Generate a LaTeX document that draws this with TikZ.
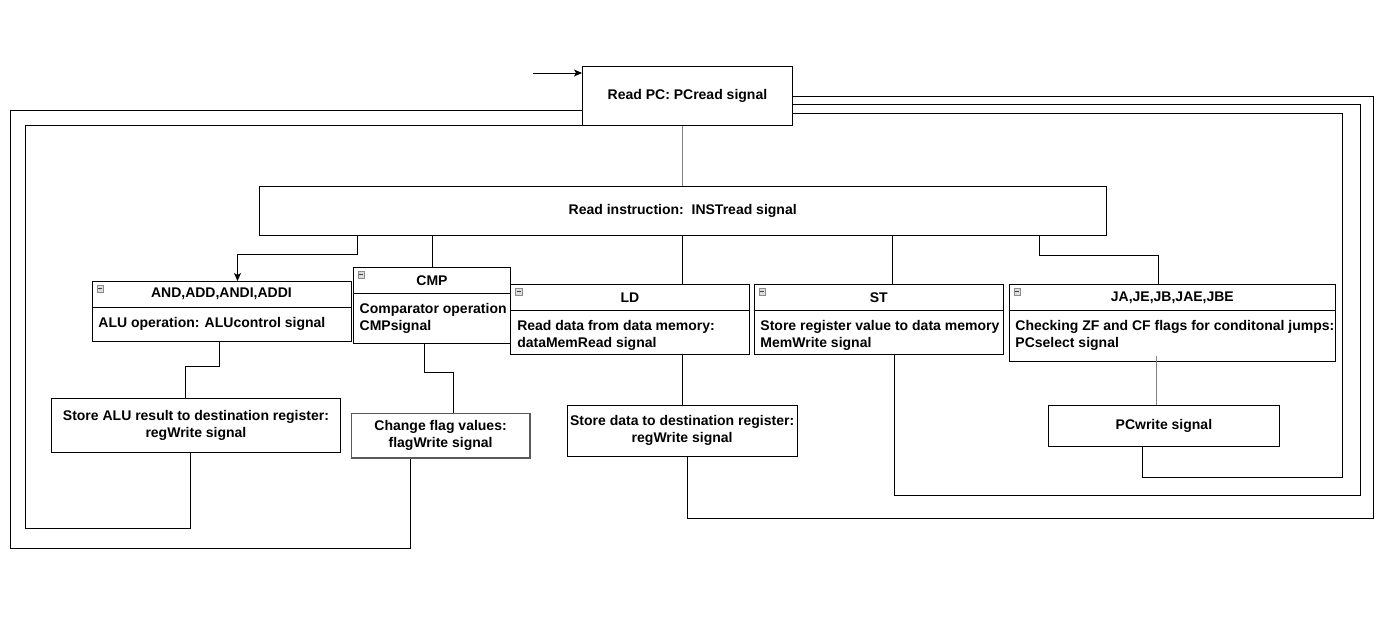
\documentclass[tikz,border=0pt]{standalone}
\usepackage{fontspec}
\setmainfont{Liberation Sans}
\usetikzlibrary{arrows.meta}

\begin{document}
\begin{tikzpicture}[x=1pt, y=-1pt, line width=0.9pt]
\tikzset{
  boite/.style={draw, rectangle, anchor=north west, inner sep=1pt, align=center, font=\bfseries\fontsize{14}{17}\selectfont},
  couloir/.style={draw, rectangle, anchor=north west, inner sep=0pt},
  titre/.style={inner sep=0pt, font=\bfseries\fontsize{14}{17}\selectfont},
  corps/.style={anchor=north west, inner sep=0pt, align=left, font=\bfseries\fontsize{14}{17}\selectfont},
  icone/.style={draw=black!45, fill=blue!10!gray!25, minimum size=6.5pt, inner sep=0pt, anchor=north west, line width=0.5pt,
    path picture={\draw[black!75, line width=0.8pt] ([xshift=1.3pt]path picture bounding box.west) -- ([xshift=-1.3pt]path picture bounding box.east);}},
  fleche/.style={-{Stealth[length=8pt, width=7pt, inset=2pt]}},
  gris/.style={draw=black!50}
}
\useasboundingbox (0,0) rectangle (1399,616);
% boites simples
\node[boite, minimum width=210pt, minimum height=59pt] (pc) at (582,66) {Read PC: PCread signal};
\node[boite, minimum width=847.5pt, minimum height=49pt] (instr) at (258.5,186) {Read instruction:\ \ INSTread signal};
\node[boite, minimum width=289pt, minimum height=54pt] (sa) at (51,398.3) {Store ALU result to destination register:\\regWrite signal};
\node[boite, draw=black!65, line width=1.6pt, minimum width=178.4pt, minimum height=44.3pt] (flag) at (350.6,412.7) {Change flag values:\\flagWrite signal};
\node[boite, minimum width=230.2pt, minimum height=50.7pt] (sd) at (566.6,405) {Store data to destination register:\\regWrite signal};
\node[boite, minimum width=230.1pt, minimum height=40.7pt] (pw) at (1048.4,405) {PCwrite signal};
% couloirs
\node[couloir, minimum width=259pt, minimum height=60.3pt] (alu) at (91.5,281) {};
\draw ([yshift=-26pt]alu.north west) -- ([yshift=-26pt]alu.north east);
\node[icone] (aluI) at ([shift={(5pt,-4pt)}]alu.north west) {};
\node[titre] (aluT) at ([yshift=-13pt]alu.north) {AND,ADD,ANDI,ADDI};
\node[corps] (aluB) at ([shift={(6.5pt,-36pt)}]alu.north west) {ALU operation: ALUcontrol signal};
\node[couloir, minimum width=157.6pt, minimum height=76pt] (cmp) at (352.7,267.3) {};
\draw ([yshift=-26pt]cmp.north west) -- ([yshift=-26pt]cmp.north east);
\node[icone] (cmpI) at ([shift={(5pt,-4pt)}]cmp.north west) {};
\node[titre] (cmpT) at ([yshift=-13pt]cmp.north) {CMP};
\node[corps] (cmpB) at ([shift={(6.5pt,-36pt)}]cmp.north west) {Comparator operation\\CMPsignal};
\node[couloir, minimum width=238.3pt, minimum height=69.7pt] (ld) at (510.3,284.3) {};
\draw ([yshift=-26pt]ld.north west) -- ([yshift=-26pt]ld.north east);
\node[icone] (ldI) at ([shift={(5pt,-4pt)}]ld.north west) {};
\node[titre] (ldT) at ([yshift=-13pt]ld.north) {LD};
\node[corps] (ldB) at ([shift={(6.5pt,-36pt)}]ld.north west) {Read data from data memory:\\dataMemRead signal};
\node[couloir, minimum width=249.5pt, minimum height=69.7pt] (st) at (753.5,284.3) {};
\draw ([yshift=-26pt]st.north west) -- ([yshift=-26pt]st.north east);
\node[icone] (stI) at ([shift={(5pt,-4pt)}]st.north west) {};
\node[titre] (stT) at ([yshift=-13pt]st.north) {ST};
\node[corps] (stB) at ([shift={(6.5pt,-36pt)}]st.north west) {Store register value to data memory\\MemWrite signal};
\node[couloir, minimum width=326.8pt, minimum height=76.7pt] (ja) at (1008.5,284.3) {};
\draw ([yshift=-26pt]ja.north west) -- ([yshift=-26pt]ja.north east);
\node[icone] (jaI) at ([shift={(5pt,-4pt)}]ja.north west) {};
\node[titre] (jaT) at ([yshift=-13pt]ja.north) {JA,JE,JB,JAE,JBE};
\node[corps] (jaB) at ([shift={(6.5pt,-36pt)}]ja.north west) {Checking ZF and CF flags for conditonal jumps:\\PCselect signal};
% liens vers le bas
\coordinate (in) at (533,73);
\draw[fleche] (in) -- (in -| pc.west);
\draw[gris] (instr.north |- pc.south) -- (instr.north);
\draw[fleche] ([xshift=99pt]instr.south west) -- ++(0,19) -| ([xshift=146pt]alu.north west);
\draw (cmp.north |- instr.south) -- (cmp.north);
\draw (instr.south) -- (instr.south |- ld.north);
\coordinate (s1) at ([xshift=634pt]instr.south west);
\draw (s1) -- (s1 |- st.north);
\draw ([xshift=-67.6pt]instr.south east) -- ++(0,20) -| ([xshift=-13.6pt]ja.north);
\draw ([xshift=-2.4pt]alu.south) -- ++(0,24) -| ([xshift=-10.8pt]sa.north);
\draw ([xshift=-7.7pt]cmp.south) -- ++(0,28.4) -| ([xshift=12.6pt]flag.north);
\draw (sd.north |- ld.south) -- (sd.north);
\coordinate (j1) at ([xshift=-7.2pt]pw.north);
\draw[gris] (j1 |- ja.south) ++(0,-6) -- (j1);
% retours vers PC
\draw ([xshift=-5.5pt]sa.south) |- ++(-165,75) |- (pc.south west);
\draw ([xshift=-30.3pt]flag.south) |- ++(-399.5,90.3) |- ([yshift=-14.5pt]pc.west);
\draw ([xshift=5.3pt]sd.south) |- ++(686,61.6) |- (pc.east);
\draw ([xshift=15.75pt]st.south) |- ++(466,141) |- ([yshift=-8.5pt]pc.east);
\draw ([xshift=-21.5pt]pw.south) |- ++(200,31.3) |- ([yshift=-17.5pt]pc.east);
\end{tikzpicture}
\end{document}
